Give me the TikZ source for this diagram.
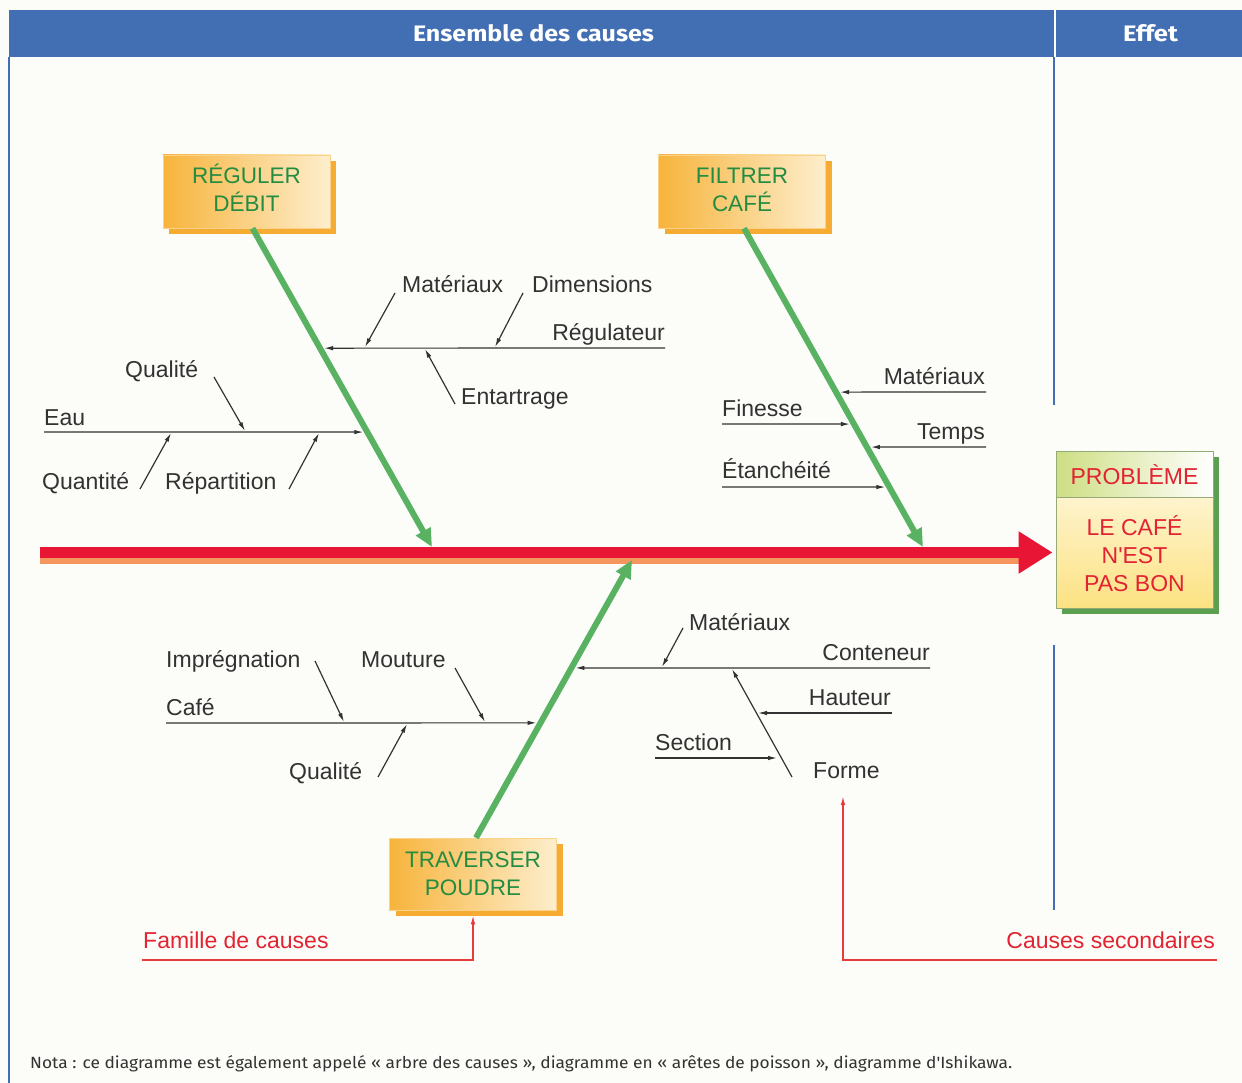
\documentclass[tikz,border=0pt]{standalone}
\usepackage{fontspec}
\setmainfont{Liberation Sans}
\newfontfamily\hdrfont{Fira Sans}
\usepackage{graphicx}
\usetikzlibrary{arrows.meta,calc,shadows}
\definecolor{hblue}{RGB}{66,110,180}
\definecolor{txtgray}{RGB}{50,50,50}
\definecolor{bonegreen}{RGB}{88,178,98}
\definecolor{boxgreen}{RGB}{35,140,65}
\definecolor{redc}{RGB}{225,35,50}
\definecolor{redline}{RGB}{232,60,60}
\definecolor{spinered}{RGB}{232,22,52}
\definecolor{spineorange}{RGB}{246,150,95}
\definecolor{orangeL}{RGB}{247,180,60}
\definecolor{orangeR}{RGB}{253,238,205}
\definecolor{orangeSh}{RGB}{246,172,50}
\definecolor{probshadow}{RGB}{90,160,80}
\definecolor{probborder}{RGB}{150,170,120}
\definecolor{probtop}{RGB}{205,222,130}
\definecolor{probbot}{RGB}{252,226,130}
\definecolor{bg}{RGB}{252,252,248}
\tikzset{
  lbl/.style={text=txtgray, font=\fontsize{23}{27}\selectfont, inner sep=0pt},
  redlbl/.style={text=redc, font=\fontsize{23}{27}\selectfont, inner sep=0pt},
  sub/.style={draw=txtgray, line width=1.2pt, -{Latex[length=9pt,width=4.5pt]}},
  redarrow/.style={draw=redline, line width=1.4pt, -{Latex[length=9pt,width=4.5pt]}},
  bone/.style={draw=bonegreen, line width=6pt, -{Triangle[length=18pt,width=16pt]}},
  cause/.style={rectangle, left color=orangeL, right color=orangeR,
    minimum width=167pt, minimum height=73pt, inner sep=0pt,
    draw=orangeL!60!white, line width=0.5pt,
    drop shadow={shadow xshift=6pt, shadow yshift=-6pt, fill=orangeSh, opacity=1}},
  ctxt/.style={text=boxgreen, font=\fontsize{22.5}{28}\selectfont, inner sep=0pt, anchor=base},
  probtxt/.style={text=redc, font=\fontsize{23}{28}\selectfont, inner sep=0pt, align=center}
}
\begin{document}
\begin{tikzpicture}[x=1pt,y=-1pt]
\useasboundingbox (0,0) rectangle (1242,1083);
\fill[bg] (0,0) rectangle (1242,1083);
% header
\fill[hblue] (9,10) rectangle (1242,57);
\draw[white, line width=2pt] (1055,10) -- (1055,57);
\draw[hblue, line width=2pt] (9,57) -- (9,1083);
\draw[hblue, line width=2pt] (1054,57) -- (1054,405);
\draw[hblue, line width=2pt] (1054,645) -- (1054,910);
\node[anchor=base, text=white, inner sep=0pt] (hcauses) at (533.5,42)
  {\resizebox{241pt}{17pt}{\hdrfont\bfseries Ensemble des causes}};
\node[anchor=base, text=white, inner sep=0pt] (heffet) at (1150.5,42)
  {\resizebox{55pt}{17pt}{\hdrfont\bfseries Effet}};
% problem box
\fill[probshadow] (1062,457) rectangle (1219,614);
\shade[left color=probtop, right color=white] (1056,451) rectangle (1213,497);
\shade[top color=white!60!probbot, bottom color=probbot] (1056,497) rectangle (1213,608);
\node[draw=probborder, line width=0.8pt, minimum width=157pt, minimum height=157pt, inner sep=0pt] (prob) at (1134.5,529.5) {};
\draw[probborder, line width=0.8pt] (prob.west |- 0,497) -- (prob.east |- 0,497);
\node[probtxt] (probt) at (1134.5,475) {PROBLÈME};
\node[probtxt] (probb) at (1134.5,554) {LE CAFÉ\\N\textquotesingle EST\\PAS BON};
% spine
\coordinate (sp0) at (40,552.5);
\coordinate (sp1) at (40,559.5);
\draw[spineorange, line width=8pt] (sp1) -- (1022,559.5);
\draw[spinered, line width=11pt, -{Triangle[length=34pt,width=40pt]}, shorten >=3pt] (sp0) -- (sp0 -| prob.west);
% cause boxes
\node[cause] (reg) at (246.5,191.5) {};
\node[ctxt] (reg1) at (246.5,184) {RÉGULER};
\node[ctxt] (reg2) at (246.5,211.5) {DÉBIT};
\node[cause] (filt) at (742,191.5) {};
\node[ctxt] (filt1) at (742,184) {FILTRER};
\node[ctxt] (filt2) at (742,211.5) {CAFÉ};
\node[cause, minimum height=72pt] (trav) at (473,874) {};
\node[ctxt] (trav1) at (473,867) {TRAVERSER};
\node[ctxt] (trav2) at (473,895) {POUDRE};
% bones
\coordinate (regS) at ([xshift=6pt]reg.south);
\coordinate (regT) at (432,547);
\coordinate (filtS) at ([xshift=2pt]filt.south);
\coordinate (filtT) at (923,547);
\coordinate (travS) at ([xshift=3pt]trav.north);
\coordinate (travT) at (632,560);
\draw[bone] (regS) -- (regT);
\draw[bone] (filtS) -- (filtT);
\draw[bone] (travS) -- (travT);
% ---- Reguler debit branch
\coordinate (rgB) at ($(regS)!0.3762!(regT)$);
\coordinate (rgR) at (665,348);
\draw[sub, shorten >=4pt] (rgR) -- (rgB);
\node[lbl, anchor=base east] (regul) at (665,340) {Régulateur};
\node[lbl, anchor=base west] (mat1) at (402,293) {Matériaux};
\node[lbl, anchor=base west] (dim) at (532,293) {Dimensions};
\node[lbl, anchor=base west] (entart) at (461,404) {Entartrage};
\coordinate (m1a) at (395,293); \coordinate (m1b) at (365,347);
\coordinate (d1a) at (523,293); \coordinate (d1b) at (495,347);
\coordinate (e1a) at (455,404); \coordinate (e1b) at (425,349);
\draw[sub] (m1a) -- (m1b);
\draw[sub] (d1a) -- (d1b);
\draw[sub] (e1a) -- (e1b);
\coordinate (eauB) at ($(regS)!0.6395!(regT)$);
\coordinate (eauL) at (44,432);
\draw[sub, shorten >=4pt] (eauL) -- (eauB);
\node[lbl, anchor=base west] (eau) at (44,425) {Eau};
\node[lbl, anchor=base west] (qual1) at (125,377) {Qualité};
\node[lbl, anchor=base west] (quant) at (42,489) {Quantité};
\node[lbl, anchor=base west] (repart) at (165,489) {Répartition};
\coordinate (q1a) at (214,377); \coordinate (q1b) at (245,431);
\coordinate (qt1a) at (140,489); \coordinate (qt1b) at (171,433);
\coordinate (r1a) at (289,489); \coordinate (r1b) at (319,433);
\draw[sub] (q1a) -- (q1b);
\draw[sub] (qt1a) -- (qt1b);
\draw[sub] (r1a) -- (r1b);
% ---- Filtrer cafe branch
\coordinate (fm) at (986,392); \coordinate (fmB) at ($(filtS)!0.5141!(filtT)$);
\coordinate (ff) at (722,424); \coordinate (ffB) at ($(filtS)!0.6144!(filtT)$);
\coordinate (ft) at (986,447); \coordinate (ftB) at ($(filtS)!0.6865!(filtT)$);
\coordinate (fe) at (722,487); \coordinate (feB) at ($(filtS)!0.8119!(filtT)$);
\draw[sub, shorten >=4pt] (fm) -- (fmB);
\draw[sub, shorten >=4pt] (ff) -- (ffB);
\draw[sub, shorten >=4pt] (ft) -- (ftB);
\draw[sub, shorten >=4pt] (fe) -- (feB);
\node[lbl, anchor=base east] (mat2) at (985,384) {Matériaux};
\node[lbl, anchor=base west] (fin) at (722,416) {Finesse};
\node[lbl, anchor=base east] (temps) at (985,439) {Temps};
\node[lbl, anchor=base west] (etan) at (722,478) {Étanchéité};
% ---- Traverser poudre branch
\coordinate (cafL) at (166,723); \coordinate (cafB) at ($(travS)!0.4137!(travT)$);
\draw[sub, shorten >=4pt] (cafL) -- (cafB);
\node[lbl, anchor=base west] (cafe) at (166,715) {Café};
\node[lbl, anchor=base west] (impr) at (166,667) {Imprégnation};
\node[lbl, anchor=base west] (mout) at (361,667) {Mouture};
\node[lbl, anchor=base west] (qual2) at (289,779) {Qualité};
\coordinate (ia) at (315,661); \coordinate (ib) at (344,722);
\coordinate (mta) at (455,668); \coordinate (mtb) at (485,722);
\coordinate (q2a) at (378,777); \coordinate (q2b) at (407,724);
\draw[sub] (ia) -- (ib);
\draw[sub] (mta) -- (mtb);
\draw[sub] (q2a) -- (q2b);
\coordinate (contR) at (930,668); \coordinate (contB) at ($(travS)!0.6115!(travT)$);
\draw[sub, shorten >=4pt] (contR) -- (contB);
\node[lbl, anchor=base east] (cont) at (930,660) {Conteneur};
\node[lbl, anchor=base west] (mat3) at (689,630) {Matériaux};
\coordinate (m3a) at (683,628); \coordinate (m3b) at (662,667);
\draw[sub] (m3a) -- (m3b);
\coordinate (fa) at (792,777); \coordinate (fb) at (732,669);
\draw[sub] (fa) -- (fb);
\node[lbl, anchor=base west] (forme) at (813,778) {Forme};
\coordinate (ha) at (892,713); \coordinate (hb) at (758,713);
\draw[sub] (ha) -- (hb);
\node[lbl, anchor=base east] (haut) at (891,705) {Hauteur};
\coordinate (sa) at (655,758); \coordinate (sb) at (777,758);
\draw[sub] (sa) -- (sb);
\node[lbl, anchor=base west] (sect) at (655,750) {Section};
% ---- red annotations
\node[redlbl, anchor=base west] (fam) at (143,948) {Famille de causes};
\coordinate (famL) at (142,960);
\coordinate (travB) at ([yshift=-5pt]trav.south);
\draw[redarrow] (famL) -- (famL -| travB) -- (travB);
\node[redlbl, anchor=base east] (cs) at (1215,948) {Causes secondaires};
\coordinate (csR) at (1217,960);
\coordinate (fTip) at (843,796);
\draw[redarrow] (csR) -- (csR -| fTip) -- (fTip);
% ---- note
\node[anchor=base west, inner sep=0pt, text=txtgray] (nota) at (30,1068)
  {\resizebox{982pt}{13pt}{\hdrfont Nota : ce diagramme est également appelé « arbre des causes », diagramme en « arêtes de poisson », diagramme d'Ishikawa.}};
\end{tikzpicture}
\end{document}
